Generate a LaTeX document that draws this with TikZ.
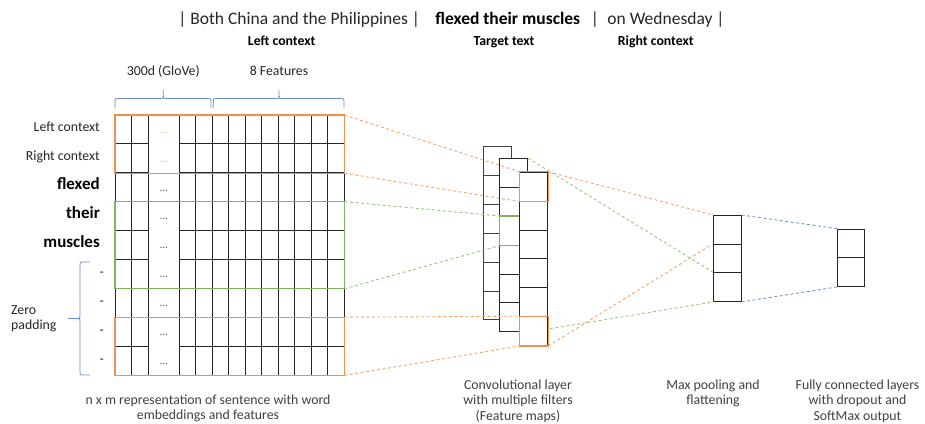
\documentclass[tikz,border=0pt]{standalone}
\usepackage{fontspec}
\setmainfont{Carlito}
\usetikzlibrary{calc}
\definecolor{ofOrange}{HTML}{ED7D31}
\definecolor{ofGreen}{HTML}{70AD47}
\definecolor{ofBlue}{HTML}{4472C4}
\definecolor{txtgrey}{HTML}{404040}
\tikzset{
  gridline/.style={line width=0.9pt, black!85},
  hlO/.style={line width=1.1pt, ofOrange!85!white},
  hlG/.style={line width=1.1pt, ofGreen!90!white},
  rowbox/.style={minimum width=229pt, minimum height=28.889pt, inner sep=0pt, anchor=north west},
  cell/.style={draw=black!85, line width=0.9pt, fill=white, minimum width=28pt, minimum height=28.9pt, inner sep=0pt, anchor=north west},
  dashO/.style={ofOrange!70!white, line width=0.9pt, dash pattern=on 3pt off 2.5pt},
  dashG/.style={ofGreen!70!white, line width=0.9pt, dash pattern=on 3pt off 2.5pt},
  dashB/.style={ofBlue!75!white, line width=0.9pt, dash pattern=on 3pt off 2.5pt},
  brc/.style={ofBlue!80!white, line width=0.8pt},
  lbl/.style={inner sep=0pt, text=black!85, text height=0.68em, text depth=0.18em, font=\fontsize{13.8}{16}\selectfont},
  lblB/.style={inner sep=0pt, text=black, text height=0.68em, text depth=0.18em, font=\fontsize{17}{20}\selectfont\bfseries},
  capline/.style={inner sep=0pt, text=txtgrey, align=center, anchor=north, font=\fontsize{13.8}{15.4}\selectfont},
  dotsA/.style={inner sep=0pt, font=\fontsize{11}{12}\selectfont},
}
\newcommand{\hbrace}[6]{% x-left, x-right, x-tip, y-arm end, y-spine, y-tip
  \draw[brc] (#1,#4) -- (#1,{#5+3}) .. controls (#1,#5) .. ({#1+3},#5) -- ({#3-3},#5)
    .. controls (#3,#5) .. (#3,{#5-3}) -- (#3,#6) -- (#3,{#5-3})
    .. controls (#3,#5) .. ({#3+3},#5) -- ({#2-3},#5) .. controls (#2,#5) .. (#2,{#5+3}) -- (#2,#4);}
\begin{document}
\begin{tikzpicture}[x=1pt,y=-1pt]
\path[use as bounding box] (0,0) rectangle (925,423);

% ---- headline sentence and its parts
\node[lbl, font=\fontsize{17.5}{20}\selectfont] (s1) at (299.2,21.7) {| Both China and the Philippines |};
\node[lbl, text=black, font=\fontsize{17.5}{20}\selectfont\bfseries] (s2) at (507.8,21.7) {flexed their muscles};
\node[lbl, font=\fontsize{17.5}{20}\selectfont] (s3) at (595,21.7) {|};
\node[lbl, font=\fontsize{17.5}{20}\selectfont] (s4) at (666,21.7) {on Wednesday |};
\node[lbl, text=black, font=\fontsize{13.8}{16}\selectfont\bfseries] (t1) at (281.7,43.3) {Left context};
\node[lbl, text=black, font=\fontsize{13.8}{16}\selectfont\bfseries] (t2) at (504,43.3) {Target text};
\node[lbl, text=black, font=\fontsize{13.8}{16}\selectfont\bfseries] (t3) at (655.8,43.3) {Right context};

% ---- column group braces
\node[lbl] (glove) at (163.3,73) {300d (GloVe)};
\node[lbl] (feat) at (279,73) {8 Features};
\hbrace{115}{211}{163.3}{108}{98.5}{90}
\hbrace{213.3}{344}{279}{108}{98.5}{90}

% ---- input matrix
\foreach \i in {1,...,9}
  \node[rowbox] (row\i) at (115,{115+(\i-1)*28.889}) {};
\foreach \x in {115,131.5,148,179,195.5,212,228.5,245,261.5,278,294.5,311,327.5,344}
  \draw[gridline] (\x,115) -- (\x,375);
\foreach \k in {1,...,8}{
  \pgfmathsetmacro\yy{115+\k*28.889}
  \draw[gridline] (115,\yy) -- (148,\yy) (179,\yy) -- (344,\yy);
}
\draw[gridline] (115,115) -- (344,115) (115,375) -- (344,375);
\draw[hlO] (row1.north west) rectangle (row2.south east);
\draw[hlG] (row4.north west) rectangle (row6.south east);
\draw[hlO] (row8.north west) rectangle (row9.south east);
\foreach \i in {1,2}
  \node[dotsA, text=ofOrange!55!white] at ($(row\i.center)+(-66,3)$) {...};
\foreach \i in {3,...,9}
  \node[dotsA, text=black!65] at ($(row\i.center)+(-66,3)$) {...};

% ---- row labels
\node[lbl, anchor=east] (lc) at (100,129.4) {Left context};
\node[lbl, anchor=east] (rc) at (100,158.3) {Right context};
\node[lblB, anchor=east] (w1) at (100,187.2) {flexed};
\node[lblB, anchor=east] (w2) at (100,216.1) {their};
\node[lblB, anchor=east] (w3) at (100,245) {muscles};
\foreach \i/\yy in {1/273.9,2/302.8,3/331.7,4/360.6}
  \node[lbl] (z\i) at (101.7,\yy) {-};
\node[inner sep=0pt, align=left, anchor=west, text=black!85, font=\fontsize{13.8}{15.7}\selectfont] (zp) at (11,318.8) {Zero\\padding};
\draw[brc] (90,262) -- (83,262) .. controls (80,262) .. (80,265) -- (80,315.5)
  .. controls (80,318.5) .. (77,318.5) -- (68,318.5) -- (77,318.5)
  .. controls (80,318.5) .. (80,321.5) -- (80,372) .. controls (80,375) .. (83,375) -- (90,375);

% ---- convolution feature maps (back and middle)
\foreach \i in {1,...,6}
  \node[cell, minimum width=27.7pt, draw=black!75] (b\i) at (483.3,{146+(\i-1)*28.9}) {};
\foreach \i in {1,...,6}
  \node[cell] (m\i) at (499.3,{158.3+(\i-1)*28.83}) {};
\draw[hlG] (m3.north east) -- (m3.north west) -- (m3.south west) -- (m3.south east);

% ---- pooling and dense layers
\foreach \i in {1,2,3}
  \node[cell, minimum width=27.4pt, minimum height=28.67pt] (p\i) at (713.3,{215+(\i-1)*28.67}) {};
\foreach \i in {1,2}
  \node[cell, minimum width=27pt, minimum height=28.65pt] (o\i) at (837.3,{228.7+(\i-1)*28.65}) {};

% the lower green link runs behind the front map
\draw[dashG] (m6.south east) -- (p3.south west);

% ---- front feature map
\foreach \i in {1,...,6}
  \node[cell] (f\i) at (519.3,{171.7+(\i-1)*28.9}) {};
\draw[hlO] (f1.north west) rectangle (f1.south east);
\draw[hlO] (f6.north west) rectangle (f6.south east);

% ---- dashed connections
\draw[dashO] (row1.north east) -- (f1.north west);
\draw[dashO] (row2.south east) -- (f1.south west);
\draw[dashG] (row4.north east) -- (m3.north west);
\draw[dashG] (row6.south east) -- (m3.south west);
\draw[dashO] (row8.north east) -- (f6.north west);
\draw[dashO] (row9.south east) -- (f6.south west);
\draw[dashG] (m1.north east) -- (p3.north west);
\draw[dashO] (f1.north east) -- (p1.north west);
\draw[dashO] (f6.south east) -- (p2.north west);
\draw[dashB] (p1.north east) -- (o1.north west);
\draw[dashB] (p3.south east) -- (o2.south west);

% ---- captions
\node[capline] (c1) at (208,394.5) {n x m representation of sentence with word\\embeddings and features};
\node[capline] (c2) at (518,379.5) {Convolutional layer\\with multiple filters\\(Feature maps)};
\node[capline] (c3) at (713,379.5) {Max pooling and\\flattening};
\node[capline] (c4) at (857.5,379.5) {Fully connected layers\\with dropout and\\SoftMax output};
\end{tikzpicture}
\end{document}
